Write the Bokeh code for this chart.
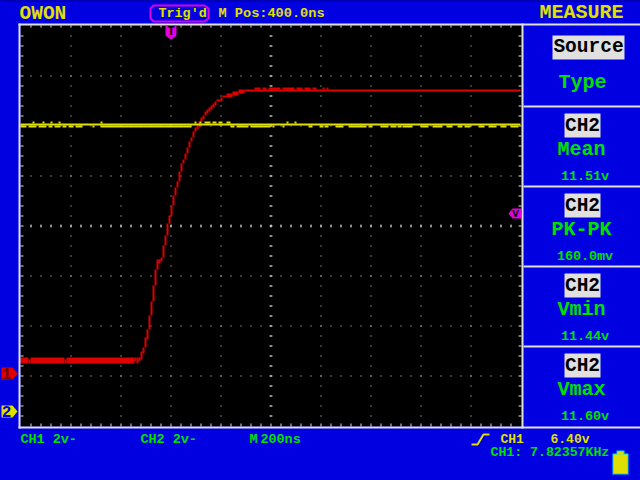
from bokeh.plotting import figure
from bokeh.models import Range1d
from bokeh.core.properties import value
from bokeh.embed import file_html
from bokeh.resources import INLINE
import numpy as np

# ---- waveform data: time in ns from the left of the screen, level in volts ----
RED_EDGES = [0, 32, 40, 176, 184, 456, 464, 472, 480, 488, 496, 504, 512, 520, 528, 536, 544, 552,
             560, 568, 576, 584, 592, 600, 608, 616, 624, 632, 640, 648, 656, 664, 672, 680, 688,
             696, 704, 712, 720, 728, 736, 744, 752, 760, 768, 776, 784, 800, 808, 824, 848, 872,
             896, 2000]
RED_HI = [0.64, 0.56, 0.64, 0.56, 0.64, 0.64, 0.64, 0.64, 0.88, 1.04, 1.44, 1.76, 2.32, 2.88, 3.52,
          4.16, 4.56, 4.56, 4.64, 5.12, 5.52, 6.00, 6.32, 6.72, 7.12, 7.44, 7.68, 8.08, 8.40, 8.56,
          8.80, 9.04, 9.28, 9.44, 9.68, 9.84, 9.92, 10.08, 10.24, 10.32, 10.48, 10.56, 10.64, 10.72,
          10.80, 10.88, 10.96, 11.04, 11.12, 11.20, 11.28, 11.36, 11.36]
RED_LO = [0.40, 0.40, 0.40, 0.40, 0.40, 0.48, 0.40, 0.48, 0.56, 0.80, 1.04, 1.36, 1.76, 2.32, 2.88,
          3.52, 4.16, 4.40, 4.48, 4.64, 5.12, 5.52, 6.00, 6.32, 6.72, 7.12, 7.44, 7.68, 8.08, 8.40,
          8.56, 8.80, 9.04, 9.28, 9.44, 9.68, 9.76, 9.84, 10.08, 10.16, 10.32, 10.40, 10.48, 10.56,
          10.64, 10.72, 10.88, 10.88, 11.04, 11.04, 11.12, 11.20, 11.28]
RED_BUMP_T0 = [936, 968, 992, 1048, 1104, 1136, 1168, 1208, 1224]
RED_BUMP_T1 = [960, 984, 1040, 1096, 1128, 1160, 1184, 1216, 1232]
RED_BUMP_HI = 11.44

YEL_CORE_T = [0, 2000]
YEL_CORE_HI, YEL_CORE_LO = 11.52, 11.44
YEL_UP_T0 = [48, 88, 120, 152, 320, 696, 716, 736, 768, 792, 824, 1064, 1096]
YEL_UP_T1 = [56, 96, 128, 160, 328, 704, 724, 760, 784, 808, 840, 1072, 1104]
YEL_UP_HI = 11.60
YEL_DN_T0 = [0, 32, 72, 112, 136, 168, 192, 220, 288, 320, 840, 864, 920, 1008, 1048, 1152, 1196, 1216,
             1260, 1312, 1392, 1440, 1480, 1508, 1528, 1600, 1648, 1704, 1748, 1776, 1832, 1872, 1920, 1960]
YEL_DN_T1 = [24, 64, 104, 128, 160, 184, 212, 248, 296, 684, 856, 912, 1000, 1016, 1056, 1168, 1212, 1232,
             1292, 1384, 1408, 1472, 1504, 1524, 1568, 1632, 1688, 1728, 1768, 1800, 1856, 1904, 1944, 1992]
YEL_DN_LO = 11.36

TITLE = "OWON"
STATUS = "Trig'd"
M_POS = "M Pos:400.0ns"
MENU = "MEASURE"
SOURCE_LABEL = "Source"
TYPE_LABEL = "Type"
CHANNELS = ["CH2", "CH2", "CH2", "CH2"]
MEASURES = ["Mean", "PK-PK", "Vmin", "Vmax"]
READINGS = ["11.51v", "160.0mv", "11.44v", "11.60v"]
SCALES = ["CH1 2v-", "CH2 2v-", "M", "200ns"]
TRIG_SRC, TRIG_LEVEL = "CH1", "6.40v"
FREQ = "CH1: 7.82357KHz"

BLUE, YEL, RED, GRN, MAG, WHT, BLK = "#0000E0", "#E0E000", "#E00000", "#00E000", "#E000E0", "#E0E0E0", "#000000"
FONT = "Liberation Mono"

p = figure(width=640, height=480, output_backend="svg", toolbar_location=None,
           x_axis_type=None, y_axis_type=None, min_border=0,
           x_range=Range1d(-80, 2480), y_range=Range1d(-4.28, 14.92),
           background_fill_color=BLUE, border_fill_color=BLUE, outline_line_color=None)
p.grid.visible = False
p.styles = {"position": "fixed", "left": "0px", "top": "0px", "background-color": BLUE}
p.extra_x_ranges["px"] = Range1d(0, 640)
p.extra_y_ranges["px"] = Range1d(480, 0)
p.extra_y_ranges["ch2"] = Range1d(-2.76, 16.44)
PX = dict(x_range_name="px", y_range_name="px")


def box(x0, x1, y0, y1, color):
    p.quad(left=x0, right=x1, top=y0, bottom=y1, fill_color=color, line_color=None, **PX)


def label(x, y, texts, color, size, align="left", weight="bold"):
    p.text(x=x, y=y, text=texts, text_color=color, text_font=value(FONT), text_font_size=f"{size}px",
           text_font_style=weight, text_baseline="middle", text_align=align, **PX)


# full background, top dark strip and screen
box([0], [640], [0], [480], BLUE)
box([0], [640], [0], [1], "#000030")
box([20], [521], [25], [426], BLK)

# graticule
gx = np.arange(70, 520, 50)
gy = np.arange(35, 425, 10)
X, Y = np.meshgrid(gx, gy)
box(X.ravel(), X.ravel() + 1, Y.ravel(), Y.ravel() + 1, WHT)
hy = np.arange(75, 425, 50)
hx = np.arange(30, 520, 10)
X, Y = np.meshgrid(hx, hy)
box(X.ravel(), X.ravel() + 1, Y.ravel(), Y.ravel() + 1, WHT)
# centre cross
box(hx, hx + 1, np.full_like(hx, 224), np.full_like(hx, 227), WHT)
box(np.full_like(gy, 269), np.full_like(gy, 272), gy, gy + 1, WHT)
# edge ticks
box(hx, hx + 1, np.full_like(hx, 25), np.full_like(hx, 27), WHT)
box(hx, hx + 1, np.full_like(hx, 423), np.full_like(hx, 426), WHT)
box(np.full_like(gy, 20), np.full_like(gy, 23), gy, gy + 1, WHT)
box(np.full_like(gy, 518), np.full_like(gy, 521), gy, gy + 1, WHT)

# CH1 trace (volts on the main axis)
p.quad(left=RED_EDGES[:-1], right=RED_EDGES[1:], top=RED_HI, bottom=RED_LO, fill_color=RED, line_color=None)
p.quad(left=RED_BUMP_T0, right=RED_BUMP_T1, top=RED_BUMP_HI, bottom=RED_HI[-1], fill_color=RED, line_color=None)

# CH2 trace (volts on its own offset axis)
CH2 = dict(y_range_name="ch2", fill_color=YEL, line_color=None)
p.quad(left=YEL_CORE_T[:1], right=YEL_CORE_T[1:], top=YEL_CORE_HI, bottom=YEL_CORE_LO, **CH2)
p.quad(left=YEL_UP_T0, right=YEL_UP_T1, top=YEL_UP_HI, bottom=YEL_CORE_HI, **CH2)
p.quad(left=YEL_DN_T0, right=YEL_DN_T1, top=YEL_CORE_LO, bottom=YEL_DN_LO, **CH2)

# frame
box([18], [20], [23], [428], WHT)
box([521], [523], [23], [428], WHT)
box([18], [640], [23], [25], WHT)
box([18], [640], [426], [428], WHT)
for yy in (105, 185, 265, 345):
    box([523], [640], [yy], [yy + 2], WHT)

# header
label([19], [13], [TITLE], YEL, 19.5)
p.patch([153, 204, 208, 208, 204, 153, 150, 150], [5, 5, 8, 18, 21, 21, 18, 8], fill_color=None,
        line_color=MAG, line_width=2, **PX)
label([158], [13], [STATUS], YEL, 13.4)
label([218], [13], [M_POS], YEL, 13.6)
label([581], [12], [MENU], YEL, 20, align="center")

# trigger markers
p.patch([165, 176, 176, 171, 170, 165], [25, 25, 35, 39, 39, 35], fill_color=MAG, line_color=None, **PX)
label([170.5], [31], ["T"], BLK, 12, align="center")
p.patch([521, 512, 508, 512, 521], [208, 208, 213, 218, 218], fill_color=MAG, line_color=None, **PX)
label([515], [213], ["V"], BLK, 11, align="center")

# channel markers
p.patch([1, 12, 17, 12, 1], [367, 367, 373, 379, 379], fill_color=RED, line_color=None, **PX)
label([6], [373], ["1"], "#700000", 16, align="center")
p.patch([1, 12, 17, 12, 1], [405, 405, 411, 417, 417], fill_color=YEL, line_color=None, **PX)
label([6], [411], ["2"], BLUE, 16, align="center")

# measure menu
box([552], [624], [35], [59], WHT)
label([588], [46], [SOURCE_LABEL], BLK, 19.5, align="center")
label([582], [82], [TYPE_LABEL], GRN, 20, align="center")
for i in range(4):
    top = 113 + 80 * i
    box([564], [600], [top], [top + 24], WHT)
    label([582], [top + 12], [CHANNELS[i]], BLK, 19.5, align="center")
    label([581], [top + 36], [MEASURES[i]], GRN, 20, align="center")
    label([584.5], [top + 63], [READINGS[i]], GRN, 13.4, align="center")

# bottom status
label([20], [439], [SCALES[0]], GRN, 13.4)
label([140], [439], [SCALES[1]], GRN, 13.4)
label([249], [439], [SCALES[2]], GRN, 13.4)
label([260], [439], [SCALES[3]], GRN, 13.4)
p.line([471, 477, 483, 489], [444, 444, 434, 434], line_color=YEL, line_width=2, **PX)
label([500], [439], [TRIG_SRC], YEL, 13)
label([550], [439], [TRIG_LEVEL], YEL, 13)
label([490], [452], [FREQ], GRN, 13.2)

# battery
box([616], [624], [450], [454], "#00E0E0")
box([612], [628], [453], [474], "#00E0E0")
box([617], [623], [451], [454], YEL)
box([613], [627], [454], [473], YEL)

open("out.html", "w").write(file_html(p, INLINE))
